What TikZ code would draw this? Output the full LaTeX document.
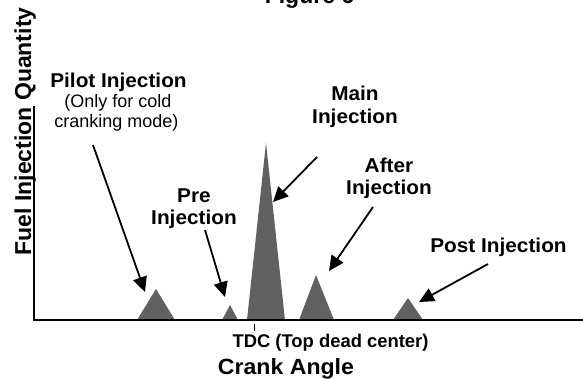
\documentclass[tikz,border=0pt]{standalone}
\usepackage{fontspec}
\setmainfont{Liberation Sans}
\usetikzlibrary{arrows.meta}
\begin{document}
\begin{tikzpicture}[x=1pt,y=-1pt,
  lbl/.style={anchor=base,inner sep=0pt,font=\bfseries\fontsize{20}{22}\selectfont,xscale=1.04},
  sub/.style={anchor=base,inner sep=0pt,font=\fontsize{18}{20}\selectfont},
  peak/.style={fill=black!62,draw=none},
  axis/.style={line width=2pt,line cap=rect},
  pointer/.style={line width=1.8pt,-{Triangle[length=15pt,width=14pt]}}]
\useasboundingbox (0,0) rectangle (583,379);
% title (clipped at top)
\node[anchor=base,inner sep=0pt,font=\bfseries\fontsize{23}{25}\selectfont] (title) at (309.5,4) {Figure 6};
% peaks
\fill[peak] (137,320) -- (156,289) -- (175,320) -- cycle;
\fill[peak] (222,320) -- (230,305) -- (238,320) -- cycle;
\fill[peak] (247,320) -- (266,143) -- (285,320) -- cycle;
\fill[peak] (299,320) -- (316,275) -- (334,320) -- cycle;
\fill[peak] (393,320) -- (408,298) -- (423,320) -- cycle;
% axes
\coordinate (ytop) at (34,107);
\coordinate (origin) at (34,320);
\coordinate (xend) at (583,320);
\draw[axis] (ytop) -- (origin) -- (xend);
\coordinate (tdcA) at (254,324);
\coordinate (tdcB) at (254,331);
\draw[line width=1pt] (tdcA) -- (tdcB);
% axis labels
\node[anchor=base,inner sep=0pt,rotate=90,font=\bfseries\fontsize{23}{25}\selectfont] (ylab) at (31,131.5) {Fuel Injection Quantity};
\node[anchor=base,inner sep=0pt,font=\bfseries\fontsize{18.4}{20}\selectfont] (tdc) at (330.5,347) {TDC (Top dead center)};
\node[anchor=base,inner sep=0pt,font=\bfseries\fontsize{22}{24}\selectfont,xscale=1.05] (crank) at (286,374) {Crank Angle};
% labels
\node[lbl] (pilot1) at (118.5,88) {Pilot Injection};
\node[sub] (pilot2) at (118,108) {(Only for cold};
\node[sub] (pilot3) at (116.5,127.5) {cranking mode)};
\node[lbl] (pre1) at (194,203) {Pre};
\node[lbl] (pre2) at (194,225) {Injection};
\node[lbl] (main1) at (355,101) {Main};
\node[lbl] (main2) at (355,123.5) {Injection};
\node[lbl] (after1) at (389,173) {After};
\node[lbl] (after2) at (389,195) {Injection};
\node[lbl] (post1) at (498.5,252) {Post Injection};
% arrows
\coordinate (pilotS) at (93,145);  \coordinate (pilotE) at (145,292);
\coordinate (preS) at (205,230);   \coordinate (preE) at (225,297);
\coordinate (mainS) at (317,157);  \coordinate (mainE) at (273,202);
\coordinate (afterS) at (373,207); \coordinate (afterE) at (329,271);
\coordinate (postS) at (488,264);  \coordinate (postE) at (419,302);
\draw[pointer] (pilotS) -- (pilotE);
\draw[pointer] (preS) -- (preE);
\draw[pointer] (mainS) -- (mainE);
\draw[pointer] (afterS) -- (afterE);
\draw[pointer] (postS) -- (postE);
\end{tikzpicture}
\end{document}
